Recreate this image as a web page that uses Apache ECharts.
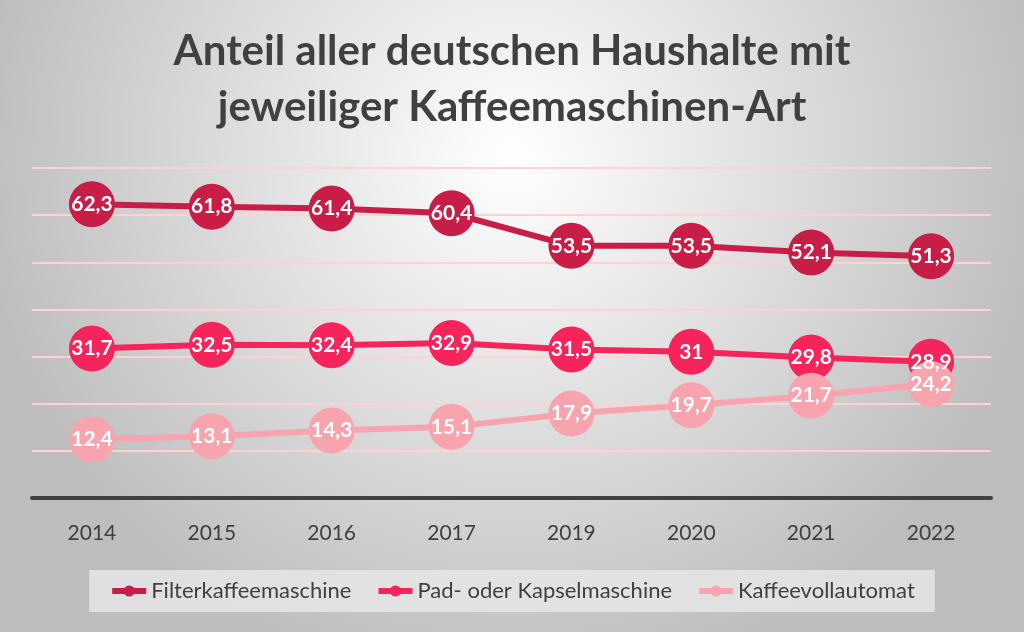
<!DOCTYPE html>
<html><head><meta charset="utf-8">
<script src="https://cdn.jsdelivr.net/npm/echarts@6/dist/echarts.min.js"></script>
<style>html,body{margin:0;padding:0;background:#fff}#c{width:1024px;height:632px}</style>
</head><body><div id="c"></div>
<script>
const categories = ['2014','2015','2016','2017','2019','2020','2021','2022'];
const filterValues = [62.3, 61.8, 61.4, 60.4, 53.5, 53.5, 52.1, 51.3];
const padValues = [31.7, 32.5, 32.4, 32.9, 31.5, 31, 29.8, 28.9];
const vollValues = [12.4, 13.1, 14.3, 15.1, 17.9, 19.7, 21.7, 24.2];
const seriesNames = ['Filterkaffeemaschine', 'Pad- oder Kapselmaschine', 'Kaffeevollautomat'];
const colors = ['#C81D47', '#F5245A', '#F7A4AE'];
const titleText = 'Anteil aller deutschen Haushalte mit\njeweiliger Kaffeemaschinen-Art';

const font = 'Lato, "Open Sans", sans-serif';
function mk(name, data, color) {
  return {
    name, type: 'line', data, z: 2,
    symbol: 'circle', symbolSize: 46,
    itemStyle: { color },
    lineStyle: { color, width: 6 },
    label: { show: false },
    emphasis: { disabled: true }
  };
}
function lbl(data) {
  return {
    type: 'line', data, z: 10, silent: true,
    symbol: 'circle', symbolSize: 2, itemStyle: { color: 'rgba(0,0,0,0)' },
    lineStyle: { width: 0, color: 'rgba(0,0,0,0)' },
    label: { show: true, position: 'inside', color: '#fff', fontFamily: font, fontWeight: 'bold', fontSize: 21,
      formatter: p => String(p.value).replace('.', ',') },
    emphasis: { disabled: true }, tooltip: { show: false }
  };
}
const chart = echarts.init(document.getElementById('c'));
chart.setOption({
  animation: false,
  backgroundColor: { type: 'radial', x: 0.5, y: 0.25, r: 0.85,
    colorStops: [{ offset: 0, color: '#ffffff' }, { offset: 1, color: '#bdbdbd' }] },
  title: { text: titleText, left: 'center', top: 18,
    textStyle: { fontFamily: font, fontWeight: 'bold', fontSize: 42, color: '#404040', lineHeight: 56 } },
  grid: { left: 32, right: 33, top: 168, bottom: 134 },
  legend: { bottom: 20, left: 'center', itemGap: 24, itemWidth: 34, itemHeight: 14,
    backgroundColor: 'rgba(230,230,230,0.85)', padding: [10, 20],
    lineStyle: { width: 6 },
    textStyle: { fontFamily: font, fontSize: 22, color: '#404040' },
    data: seriesNames },
  xAxis: { type: 'category', data: categories,
    axisLine: { lineStyle: { color: '#404040', width: 4 } },
    axisTick: { show: false },
    axisLabel: { fontFamily: font, fontSize: 21, color: '#404040', margin: 25 } },
  yAxis: { type: 'value', min: 0, max: 70, interval: 10,
    axisLabel: { show: false }, axisLine: { show: false }, axisTick: { show: false },
    splitLine: { lineStyle: { color: '#fbd3d3', width: 2 } } },
  series: [
    mk(seriesNames[0], filterValues, colors[0]),
    mk(seriesNames[1], padValues, colors[1]),
    mk(seriesNames[2], vollValues, colors[2]),
    lbl(filterValues), lbl(padValues), lbl(vollValues)
  ]
});
</script></body></html>
